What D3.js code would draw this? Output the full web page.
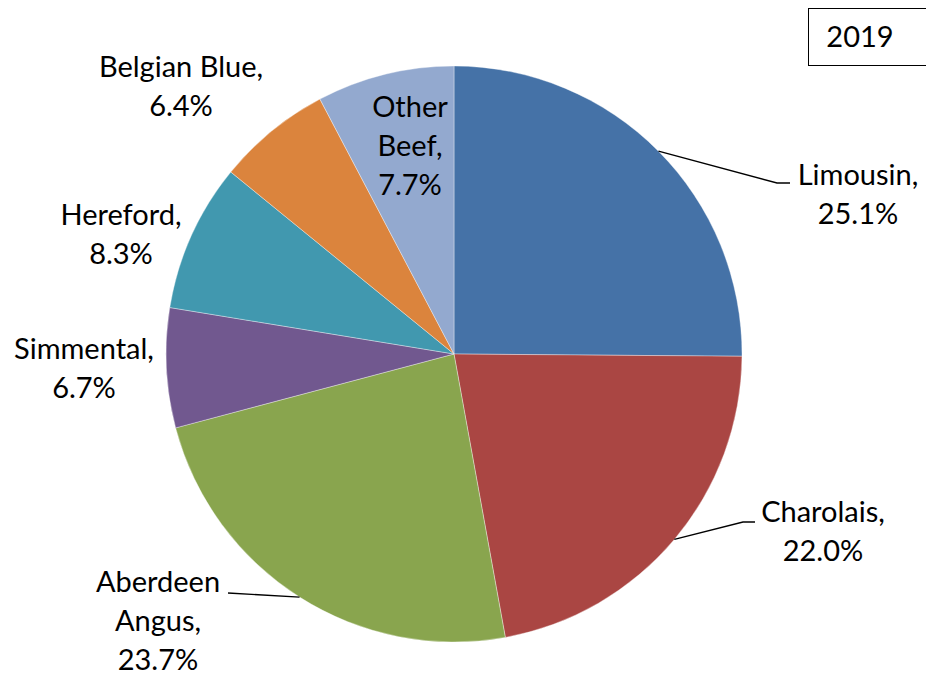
<!DOCTYPE html>
<html>
<head>
<meta charset="utf-8">
<script src="https://cdn.jsdelivr.net/npm/d3@7"></script>
<style>
  html, body { margin: 0; padding: 0; background: #fff; }
  svg { display: block; }
  text { font-family: Lato, "Open Sans", sans-serif; fill: #000; }
</style>
</head>
<body>
<svg id="chart" width="926" height="680"></svg>
<script>
// ---- data ----
const categories = ["Limousin", "Charolais", "Aberdeen Angus", "Simmental", "Hereford", "Belgian Blue", "Other Beef"];
const values = [25.1, 22.0, 23.7, 6.7, 8.3, 6.4, 7.7];
const labelLines = [
  ["Limousin,", "25.1%"],
  ["Charolais,", "22.0%"],
  ["Aberdeen", "Angus,", "23.7%"],
  ["Simmental,", "6.7%"],
  ["Hereford,", "8.3%"],
  ["Belgian Blue,", "6.4%"],
  ["Other", "Beef,", "7.7%"]
];
const colors = ["#4572A7", "#AA4643", "#89A54E", "#71588F", "#4198AF", "#DB843D", "#93A9CF"];
const yearLabel = "2019";

// ---- layout (label anchor: center x, first baseline y; leader elbow) ----
const layout = {
  cx: 454, cy: 354, r: 288,
  lineH: 39,
  fontSize: 29,
  labels: [
    {x: 858, y: 185, elbow: [777, 183], end: 790},
    {x: 823, y: 522, elbow: [743, 522], end: 755},
    {x: 158, y: 592, elbow: [228, 593], end: null},
    {x: 84,  y: 359},
    {x: 121, y: 225},
    {x: 181, y: 77},
    {x: 410, y: 117}
  ]
};

const svg = d3.select("#chart");
const g = svg.append("g").attr("transform", `translate(${layout.cx},${layout.cy})`);

const data = categories.map((c, i) => ({name: c, value: values[i], i}));
const pie = d3.pie().value(d => d.value).sort(null);
const arc = d3.arc().innerRadius(0).outerRadius(layout.r);
const arcs = pie(data);

g.selectAll("path.slice")
  .data(arcs)
  .join("path")
  .attr("class", "slice")
  .attr("d", arc)
  .attr("fill", d => colors[d.data.i])
  .attr("stroke", "#ffffff")
  .attr("stroke-opacity", 0.6)
  .attr("stroke-width", 0.6);

// leader lines
arcs.forEach(a => {
  const L = layout.labels[a.data.i];
  if (!L.elbow) return;
  const mid = (a.startAngle + a.endAngle) / 2;
  const px = layout.cx + layout.r * Math.sin(mid);
  const py = layout.cy - layout.r * Math.cos(mid);
  const pts = [[px, py], L.elbow];
  if (L.end !== null) pts.push([L.end, L.elbow[1]]);
  svg.append("path")
    .attr("d", d3.line()(pts))
    .attr("fill", "none")
    .attr("stroke", "#000")
    .attr("stroke-width", 1.3);
});

// labels
arcs.forEach(a => {
  const L = layout.labels[a.data.i];
  const t = svg.append("text")
    .attr("text-anchor", "middle")
    .attr("font-size", layout.fontSize);
  labelLines[a.data.i].forEach((s, k) => {
    t.append("tspan").attr("x", L.x).attr("y", L.y + k * layout.lineH).text(s);
  });
});

// year box
svg.append("rect")
  .attr("x", 808.5).attr("y", 8.5)
  .attr("width", 130).attr("height", 57)
  .attr("fill", "#fff").attr("stroke", "#000").attr("stroke-width", 1);
svg.append("text")
  .attr("x", 860).attr("y", 47)
  .attr("text-anchor", "middle")
  .attr("font-size", layout.fontSize)
  .text(yearLabel);
</script>
</body>
</html>
